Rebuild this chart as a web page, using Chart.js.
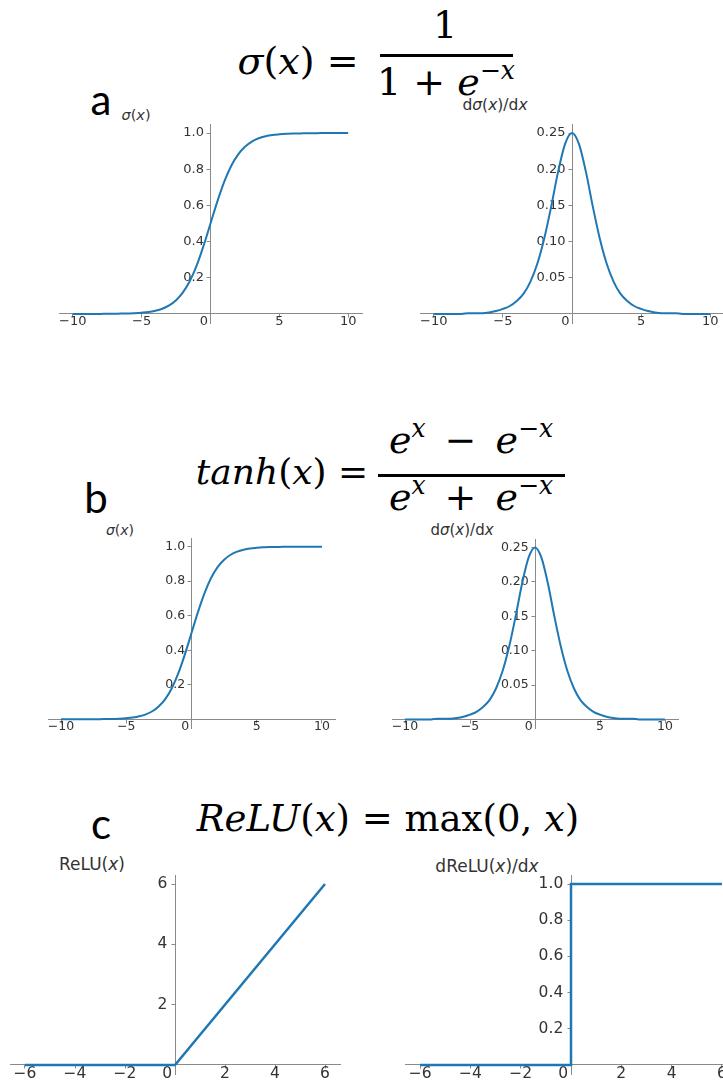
<!DOCTYPE html>
<html>
<head>
<meta charset="utf-8">
<script src="https://cdn.jsdelivr.net/npm/chart.js@4/dist/chart.umd.min.js"></script>
<style>
  html, body { margin: 0; padding: 0; background: #fff; }
  body { width: 723px; height: 1080px; position: relative; overflow: hidden; font-family: 'DejaVu Sans', sans-serif; }
  canvas { position: absolute; }
  .tag { position: absolute; font-family: Lato, 'Liberation Sans', sans-serif; font-size: 42px; line-height: 1; color: #000; transform: translate(-50%, -50%); }
  .lab { position: absolute; color: #333; white-space: nowrap; line-height: 1; transform: translate(-50%, -50%); }
  .eq { position: absolute; font-family: 'DejaVu Serif', serif; color: #000; white-space: nowrap; line-height: 1; transform: translate(-50%, -50%); }
  .eq sup { font-size: 0.66em; position: relative; top: -0.2em; vertical-align: top; }
  .bar { position: absolute; background: #000; height: 2.5px; }
</style>
</head>
<body>

<!-- section headings -->
<div class="tag" style="left:101px; top:99px">a</div>
<div class="tag" style="left:96px; top:497px">b</div>
<div class="tag" style="left:101px; top:823px">c</div>

<!-- sigmoid formula -->
<div class="eq" style="left:298px; top:61px; font-size:38px"><i>σ</i>(<i>x</i>) =</div>
<div class="eq" style="left:445px; top:25px; font-size:38px">1</div>
<div class="bar" style="left:380px; top:54px; width:133px"></div>
<div class="eq" style="left:446px; top:82px; font-size:38px">1 + <i>e</i><sup>−<i>x</i></sup></div>

<!-- tanh formula -->
<div class="eq" style="left:282px; top:472px; font-size:36px"><i>tanh</i>(<i>x</i>) =</div>
<div class="eq" style="left:471px; top:440px; font-size:38px"><i>e</i><sup><i>x</i></sup>&ensp;−&ensp;<i>e</i><sup>−<i>x</i></sup></div>
<div class="bar" style="left:378px; top:474px; width:187px"></div>
<div class="eq" style="left:471px; top:497px; font-size:38px"><i>e</i><sup><i>x</i></sup>&ensp;+&ensp;<i>e</i><sup>−<i>x</i></sup></div>

<!-- relu formula -->
<div class="eq" style="left:388px; top:818px; font-size:37px"><i>ReLU</i>(<i>x</i>) = max(0, <i>x</i>)</div>

<!-- axis captions -->
<div class="lab" style="left:136px; top:115px; font-size:14.5px"><i>σ</i>(<i>x</i>)</div>
<div class="lab" style="left:495px; top:106px; font-size:15.5px">d<i>σ</i>(<i>x</i>)/d<i>x</i></div>
<div class="lab" style="left:120px; top:530px; font-size:14px"><i>σ</i>(<i>x</i>)</div>
<div class="lab" style="left:462px; top:530px; font-size:15px">d<i>σ</i>(<i>x</i>)/d<i>x</i></div>
<div class="lab" style="left:92px; top:864px; font-size:17px">ReLU(<i>x</i>)</div>
<div class="lab" style="left:487px; top:866px; font-size:17px">dReLU(<i>x</i>)/d<i>x</i></div>

<canvas id="sigA"></canvas>
<canvas id="gradA"></canvas>
<canvas id="sigB"></canvas>
<canvas id="gradB"></canvas>
<canvas id="relu"></canvas>
<canvas id="reluGrad"></canvas>

<script>
// sampled curves
const sigX = [-10, -9.5, -9, -8.5, -8, -7.5, -7, -6.5, -6, -5.5, -5, -4.5, -4, -3.5, -3, -2.5, -2, -1.5, -1, -0.5,
              0, 0.5, 1, 1.5, 2, 2.5, 3, 3.5, 4, 4.5, 5, 5.5, 6, 6.5, 7, 7.5, 8, 8.5, 9, 9.5, 10];
const sigY = [0.000, 0.000, 0.000, 0.000, 0.000, 0.001, 0.001, 0.002, 0.002, 0.004, 0.007, 0.011, 0.018, 0.029, 0.047, 0.076, 0.119, 0.182, 0.269, 0.378,
              0.500, 0.622, 0.731, 0.818, 0.881, 0.924, 0.953, 0.971, 0.982, 0.989, 0.993, 0.996, 0.998, 0.998, 0.999, 0.999, 1.000, 1.000, 1.000, 1.000, 1.000];
const sigGrad = [0.000, 0.000, 0.000, 0.000, 0.000, 0.001, 0.001, 0.001, 0.002, 0.004, 0.007, 0.011, 0.018, 0.028, 0.045, 0.070, 0.105, 0.149, 0.197, 0.235,
                 0.250, 0.235, 0.197, 0.149, 0.105, 0.070, 0.045, 0.028, 0.018, 0.011, 0.007, 0.004, 0.002, 0.001, 0.001, 0.001, 0.000, 0.000, 0.000, 0.000, 0.000];
const reluX = [-6, 0, 6];
const reluY = [0, 0, 6];
const reluGradX = [-6, 0, 0, 6];
const reluGradY = [0, 0, 1, 1];

// tick values
const sigXTicks = [-10, -5, 0, 5, 10];
const sigYTicks = [0.2, 0.4, 0.6, 0.8, 1.0];
const gradYTicks = [0.05, 0.10, 0.15, 0.20, 0.25];
const reluXTicks = [-6, -4, -2, 0, 2, 4, 6];
const reluYTicks = [2, 4, 6];
const stepYTicks = [0.2, 0.4, 0.6, 0.8, 1.0];

Chart.defaults.font.family = "'DejaVu Sans', sans-serif";

const SPINE = '#8a8a8a';

function fmtX(v) {
  if (v === 0) return '0\u2003';          // nudged left of the y spine
  return v < 0 ? '\u2212' + Math.abs(v) : String(v);
}

// box = chart area [left, top, right, bottom] in page px
function plot(id, box, xs, ys, o) {
  const pad = 30;
  const cv = document.getElementById(id);
  const w = box[2] - box[0] + 2 * pad;
  const h = box[3] - box[1] + 2 * pad;
  cv.width = w; cv.height = h;
  cv.style.left = (box[0] - pad) + 'px';
  cv.style.top = (box[1] - pad) + 'px';
  cv.style.width = w + 'px';
  cv.style.height = h + 'px';

  const grid = { display: true, drawOnChartArea: false, drawTicks: true, tickLength: 3.5, tickColor: SPINE, tickWidth: 1 };
  const border = { display: true, color: SPINE, width: 1 };

  new Chart(cv, {
    type: 'line',
    data: {
      datasets: [{
        data: xs.map((x, i) => ({ x, y: ys[i] })),
        borderColor: '#1f77b4',
        borderWidth: o.lw,
        pointRadius: 0,
        tension: 0,
        cubicInterpolationMode: o.smooth ? 'monotone' : 'default',
        fill: false,
      }],
    },
    options: {
      responsive: false,
      animation: false,
      devicePixelRatio: 1,
      layout: { padding: pad },
      plugins: { legend: { display: false }, tooltip: { enabled: false } },
      scales: {
        x: {
          type: 'linear', position: { y: 0 },
          min: o.xr[0], max: o.xr[1],
          afterBuildTicks: s => { s.ticks = o.xt.map(v => ({ value: v })); },
          ticks: { callback: fmtX, color: '#333', font: { size: o.fs, lineHeight: 1 }, padding: -2, maxRotation: 0, autoSkip: false },
          grid, border,
        },
        y: {
          type: 'linear', position: { x: 0 },
          min: o.yr[0], max: o.yr[1],
          afterBuildTicks: s => { s.ticks = o.yt.map(v => ({ value: v })); },
          ticks: { callback: v => v.toFixed(o.dec) + '\u2002', color: '#333', font: { size: o.fs }, autoSkip: false },
          grid, border,
        },
      },
    },
  });
}

plot('sigA', [59, 124, 362, 323], sigX, sigY,
  { lw: 2, smooth: true, fs: 13, xr: [-11, 11], yr: [-0.05, 1.05], xt: sigXTicks, yt: sigYTicks, dec: 1 });
plot('gradA', [420, 124, 724, 323], sigX, sigGrad,
  { lw: 2, smooth: true, fs: 13, xr: [-11, 11], yr: [-0.0125, 0.2625], xt: sigXTicks, yt: gradYTicks, dec: 2 });
plot('sigB', [48, 538, 335, 728], sigX, sigY,
  { lw: 2, smooth: true, fs: 12.5, xr: [-11, 11], yr: [-0.05, 1.05], xt: sigXTicks, yt: sigYTicks, dec: 1 });
plot('gradB', [392, 539, 678, 728], sigX, sigGrad,
  { lw: 2, smooth: true, fs: 12.5, xr: [-11, 11], yr: [-0.0125, 0.2625], xt: sigXTicks, yt: gradYTicks, dec: 2 });
plot('relu', [10, 875, 340, 1074], reluX, reluY,
  { lw: 2.5, smooth: false, fs: 15.5, xr: [-6.6, 6.6], yr: [-0.3, 6.3], xt: reluXTicks, yt: reluYTicks, dec: 0 });
plot('reluGrad', [405, 875, 737, 1074], reluGradX, reluGradY,
  { lw: 2.5, smooth: false, fs: 15.5, xr: [-6.6, 6.6], yr: [-0.05, 1.05], xt: reluXTicks, yt: stepYTicks, dec: 1 });
</script>
</body>
</html>
